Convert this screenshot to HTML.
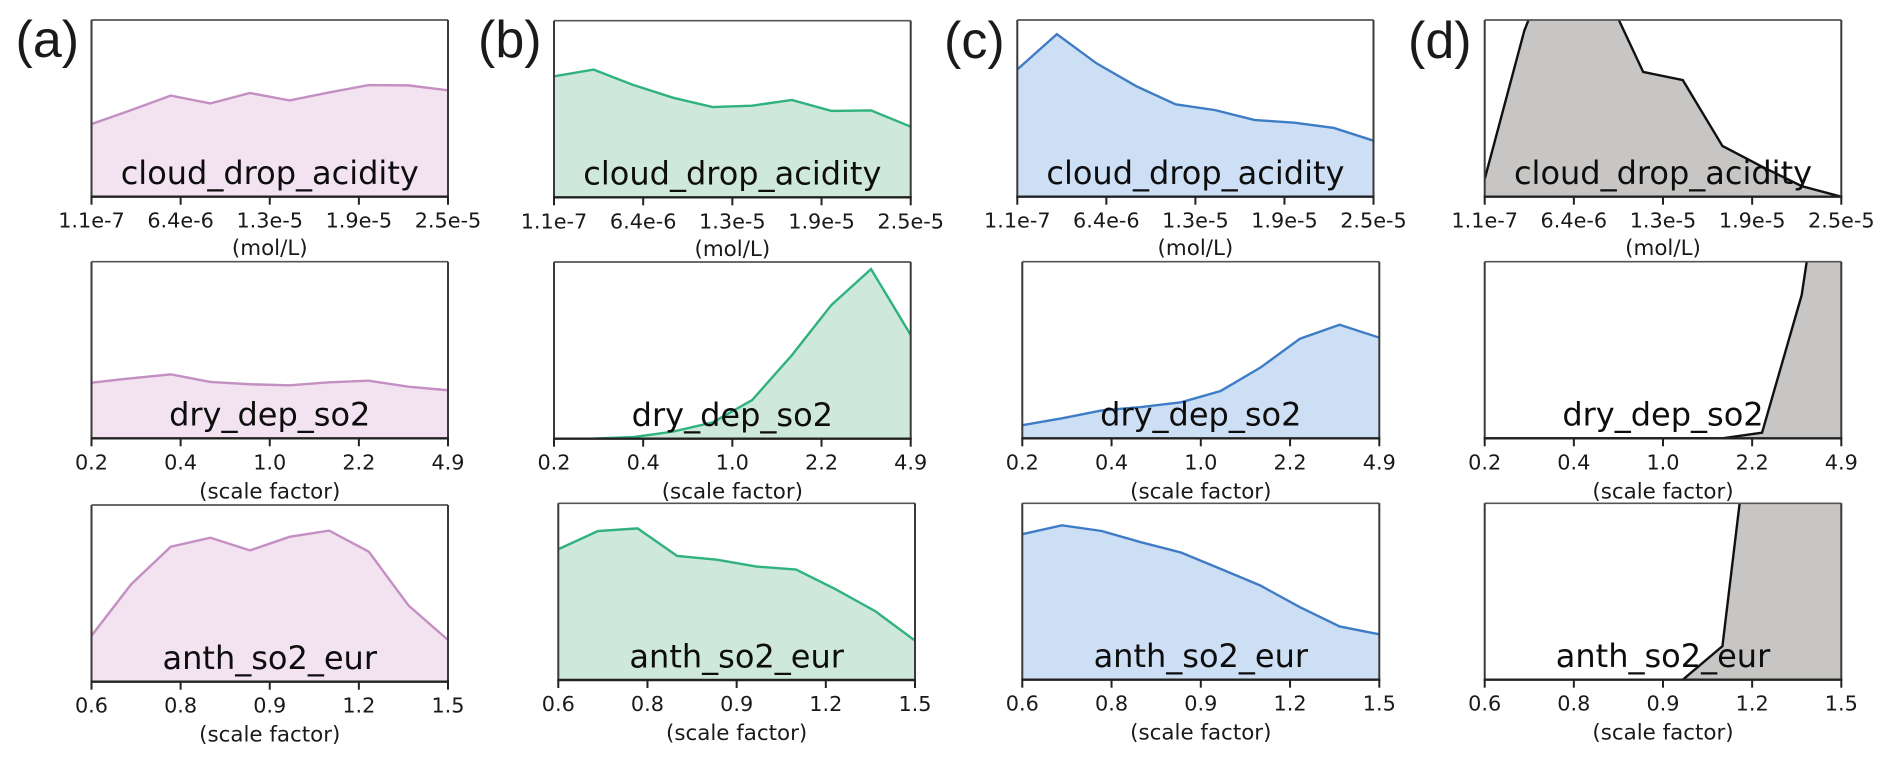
<!DOCTYPE html>
<html lang="en">
<head>
<meta charset="utf-8">
<title>Parameter distribution panels</title>
<style>
  html, body { margin: 0; padding: 0; background: #ffffff; }
  body { width: 1892px; height: 764px; overflow: hidden; }
  svg { display: block; }
  .panel-letter { font-family: "Liberation Sans", sans-serif; font-size: 52px; fill: #1a1a1a; }
  .feature-title { font-family: "DejaVu Sans", sans-serif; font-size: 32px; fill: #0d0d0d; text-anchor: middle; }
  .tick-label { font-family: "DejaVu Sans", sans-serif; font-size: 20.8px; fill: #1a1a1a; text-anchor: middle; }
  .axis-title { font-family: "DejaVu Sans", sans-serif; font-size: 21.4px; fill: #1a1a1a; text-anchor: middle; }
</style>
</head>
<body>
<svg id="figure" xmlns="http://www.w3.org/2000/svg" width="1892" height="764" viewBox="0 0 1892 764">
  <rect x="0" y="0" width="1892" height="764" fill="#ffffff"/>
</svg>
<script>
// ---------- chart data (density as a percent of axis height; values above 100 are clipped) ----------
const featureNames = ["cloud_drop_acidity", "dry_dep_so2", "anth_so2_eur"];
const axisUnits = ["(mol/L)", "(scale factor)", "(scale factor)"];
const acidityTicks = ["1.1e-7", "6.4e-6", "1.3e-5", "1.9e-5", "2.5e-5"];
const dryDepTicks = ["0.2", "0.4", "1.0", "2.2", "4.9"];
const anthTicks = ["0.6", "0.8", "0.9", "1.2", "1.5"];
const panelLetters = ["(a)", "(b)", "(c)", "(d)"];

const panelAAcidity = [41.1, 49.0, 57.2, 52.8, 58.7, 54.5, 59.0, 63.2, 63.0, 60.2];
const panelADryDep = [31.5, 34.0, 36.2, 31.9, 30.6, 30.0, 31.7, 32.6, 29.2, 27.2];
const panelAAnth = [26.0, 55.1, 76.4, 81.5, 74.3, 82.0, 85.5, 73.6, 43.2, 23.6];

const panelBAcidity = [68.5, 72.3, 63.6, 56.4, 51.1, 51.9, 55.1, 48.9, 49.2, 40.0];
const panelBDryDep = [0, 0.1, 0.9, 4.0, 9.2, 21.9, 47.2, 75.7, 96.0, 58.7];
const panelBAnth = [74.0, 84.3, 85.8, 70.2, 68.1, 64.2, 62.5, 51.3, 38.9, 22.3];

const panelCAcidity = [72.0, 92.0, 75.5, 62.6, 52.3, 49.0, 43.4, 41.9, 38.9, 31.7];
const panelCDryDep = [7.4, 11.3, 15.8, 17.7, 20.4, 26.8, 40.0, 56.4, 64.3, 57.0];
const panelCAnth = [82.5, 87.5, 84.3, 77.9, 72.1, 62.8, 53.4, 41.1, 30.2, 25.7];

const panelDAcidity = [10.0, 94.0, 150.0, 118.5, 70.6, 66.0, 28.7, 17.0, 6.0, 0];
const panelDDryDep = [0, 0, 0, 0, 0, 0, 0, 3.2, 81.1, 230.0];
const panelDAnth = [0, 0, 0, 0, 0, 0, 19.0, 205.6, 320.0, 400.0];

// ---------- layout and styling (separate from the data) ----------
const frameOf = {
  a: [{l: 91.5, r: 448, t: 20, b: 196.7}, {l: 91.5, r: 448, t: 261.7, b: 438.3}, {l: 91.5, r: 448, t: 505, b: 681.7}],
  b: [{l: 554, r: 910.7, t: 20.7, b: 197.3}, {l: 554, r: 910.7, t: 262, b: 438.7}, {l: 558.3, r: 915, t: 503.3, b: 680}],
  c: [{l: 1017.3, r: 1373.5, t: 20, b: 196.7}, {l: 1022.3, r: 1379.3, t: 261.7, b: 438.3}, {l: 1022.3, r: 1379.3, t: 503.3, b: 679.7}],
  d: [{l: 1484.7, r: 1841.3, t: 20, b: 196.7}, {l: 1484.7, r: 1841.3, t: 261.7, b: 438.3}, {l: 1484.7, r: 1841.3, t: 503.3, b: 679.7}]
};
const styleOf = {
  a: {fill: "#f3e3f0", line: "#c48fc3", letterX: 15.5, letterY: 57},
  b: {fill: "#cfe8dc", line: "#2fb27e", letterX: 478, letterY: 57},
  c: {fill: "#cddff4", line: "#3f7cc6", letterX: 944, letterY: 58},
  d: {fill: "#c7c6c4", line: "#111111", letterX: 1408, letterY: 58}
};
const seriesOf = {
  a: [panelAAcidity, panelADryDep, panelAAnth],
  b: [panelBAcidity, panelBDryDep, panelBAnth],
  c: [panelCAcidity, panelCDryDep, panelCAnth],
  d: [panelDAcidity, panelDDryDep, panelDAnth]
};
const tickSets = [acidityTicks, dryDepTicks, anthTicks];
const panelKeys = ["a", "b", "c", "d"];

const svgNS = "http://www.w3.org/2000/svg";
const figure = document.getElementById("figure");

function make(tag, attrs, parent) {
  const el = document.createElementNS(svgNS, tag);
  for (const k in attrs) el.setAttribute(k, attrs[k]);
  parent.appendChild(el);
  return el;
}
function xScale(frame, position, count) {
  return frame.l + (position / (count - 1)) * (frame.r - frame.l);
}
function yScale(frame, value) {
  return frame.b - (value / 100) * (frame.b - frame.t);
}

function drawAxes(key, row) {
  const frame = frameOf[key][row];
  const style = styleOf[key];
  const values = seriesOf[key][row];
  const ticks = tickSets[row];
  const n = values.length;
  const id = key + row;

  const group = make("g", {}, figure);
  
  

  const clip = make("clipPath", {id: "clip-" + id}, group);
  make("rect", {x: frame.l, y: frame.t, width: frame.r - frame.l, height: frame.b - frame.t}, clip);

  const pts = values.map((v, i) => xScale(frame, i, n).toFixed(2) + "," + yScale(frame, v).toFixed(2));
  const area = make("polygon", {
    points: frame.l + "," + frame.b + " " + pts.join(" ") + " " + frame.r + "," + frame.b,
    fill: style.fill,
    "clip-path": "url(#clip-" + id + ")"
  }, group);
  
  

  const line = make("polyline", {
    points: pts.join(" "),
    fill: "none",
    stroke: style.line,
    "stroke-width": 2.4,
    "stroke-linejoin": "miter",
    "clip-path": "url(#clip-" + id + ")"
  }, group);
  
  

  const spines = [
    {name: "top", x1: frame.l, y1: frame.t, x2: frame.r, y2: frame.t, w: 1.7, c: "#555555"},
    {name: "left", x1: frame.l, y1: frame.t, x2: frame.l, y2: frame.b, w: 2, c: "#3a3a3a"},
    {name: "right", x1: frame.r, y1: frame.t, x2: frame.r, y2: frame.b, w: 2, c: "#3a3a3a"},
    {name: "bottom", x1: frame.l - 1, y1: frame.b, x2: frame.r + 1, y2: frame.b, w: 2.4, c: "#222222"}
  ];
  spines.forEach(s => {
    const sp = make("line", {x1: s.x1, y1: s.y1, x2: s.x2, y2: s.y2, stroke: s.c, "stroke-width": s.w}, group);
    
    
  });

  ticks.forEach((label, i) => {
    const tx = xScale(frame, i, ticks.length);
    const mark = make("line", {x1: tx, y1: frame.b, x2: tx, y2: frame.b + 8, stroke: "#222222", "stroke-width": 2}, group);
    
    
    const text = make("text", {x: tx, y: frame.b + 31, class: "tick-label"}, group);
    text.textContent = label;
    
    
  });

  const mid = (frame.l + frame.r) / 2;
  const title = make("text", {x: mid, y: frame.b - 12.7, class: "feature-title"}, group);
  title.textContent = featureNames[row];
  
  

  const unit = make("text", {x: mid, y: frame.b + (row === 0 ? 58.5 : 60), class: "axis-title"}, group);
  unit.textContent = axisUnits[row];
  
  
}

panelKeys.forEach((key, p) => {
  featureNames.forEach((_, row) => drawAxes(key, row));
  const letter = make("text", {x: styleOf[key].letterX, y: styleOf[key].letterY, class: "panel-letter"}, figure);
  letter.textContent = panelLetters[p];
  
  
});
</script>
</body>
</html>
